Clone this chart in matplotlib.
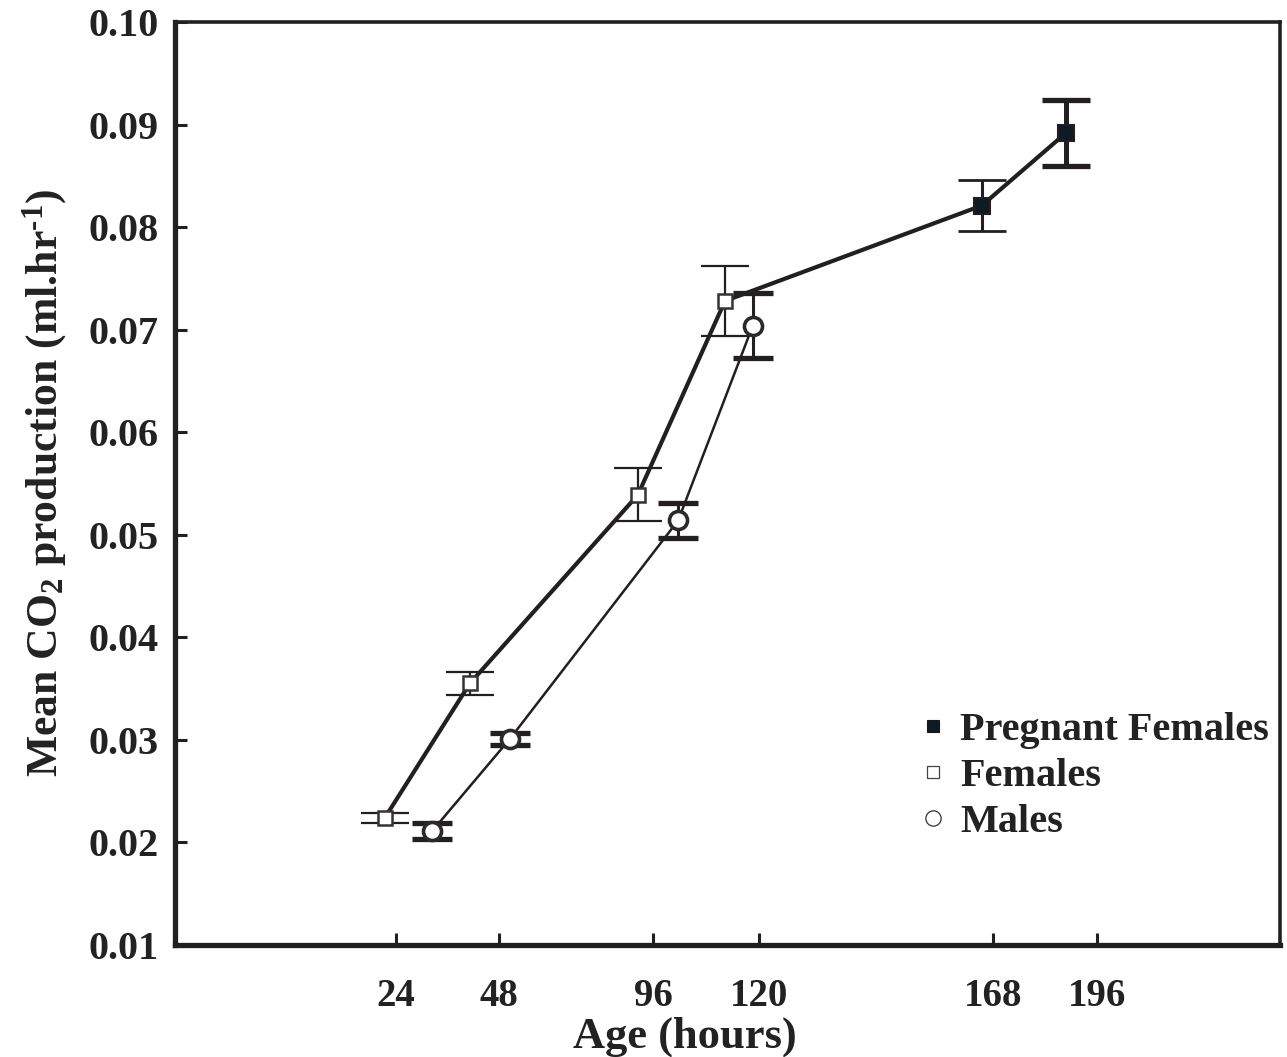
import numpy as np
import matplotlib
matplotlib.use("Agg")
import matplotlib.pyplot as plt
from matplotlib.lines import Line2D
from matplotlib.font_manager import FontProperties

# ---------------- data ----------------
tick_hours = [24, 48, 96, 120, 168, 196]
tick_labels = ["24", "48", "96", "120", "168", "196"]

fem_x = [21.4, 41.2, 91.3, 112.3]
fem_y = [0.0224, 0.0355, 0.0539, 0.0728]
fem_err = [0.0005, 0.0011, 0.0026, 0.0034]

male_x = [32.4, 51.4, 101.7, 118.6]
male_y = [0.0211, 0.0301, 0.0514, 0.0704]
male_err = [0.0008, 0.0006, 0.0017, 0.0032]

preg_x = [165.7, 187.7]
preg_y = [0.0821, 0.0892]
preg_err = [0.0025, 0.0032]

y_ticks = [0.01, 0.02, 0.03, 0.04, 0.05, 0.06, 0.07, 0.08, 0.09, 0.10]
legend_labels = ["Pregnant Females", "Females", "Males"]

# ---------------- non-linear age axis (piecewise scale) ----------------
anchor_h = np.array([-27.5, 24, 48, 96, 120, 168, 196, 245.3])
anchor_p = np.array([0, 221, 324, 478, 584, 818, 922, 1105], dtype=float)


def fwd(h):
    h = np.asarray(h, dtype=float)
    out = np.interp(h, anchor_h, anchor_p)
    s0 = (anchor_p[1] - anchor_p[0]) / (anchor_h[1] - anchor_h[0])
    s1 = (anchor_p[-1] - anchor_p[-2]) / (anchor_h[-1] - anchor_h[-2])
    out = np.where(h < anchor_h[0], anchor_p[0] + (h - anchor_h[0]) * s0, out)
    out = np.where(h > anchor_h[-1], anchor_p[-1] + (h - anchor_h[-1]) * s1, out)
    return out


def inv(p):
    p = np.asarray(p, dtype=float)
    out = np.interp(p, anchor_p, anchor_h)
    s0 = (anchor_h[1] - anchor_h[0]) / (anchor_p[1] - anchor_p[0])
    s1 = (anchor_h[-1] - anchor_h[-2]) / (anchor_p[-1] - anchor_p[-2])
    out = np.where(p < anchor_p[0], anchor_h[0] + (p - anchor_p[0]) * s0, out)
    out = np.where(p > anchor_p[-1], anchor_h[-1] + (p - anchor_p[-1]) * s1, out)
    return out


# ---------------- style ----------------
plt.rcParams["font.family"] = ["Liberation Serif", "DejaVu Serif"]
plt.rcParams["font.weight"] = "bold"
plt.rcParams["mathtext.fontset"] = "custom"
plt.rcParams["mathtext.rm"] = "Liberation Serif:bold"
plt.rcParams["mathtext.bf"] = "Liberation Serif:bold"
plt.rcParams["mathtext.it"] = "Liberation Serif:bold"

ink = "#231f20"
navy = "#0f1a22"
txt = "#222222"

fig = plt.figure(figsize=(12.87, 10.57), dpi=100)
ax = fig.add_axes([175 / 1287, 1 - 945 / 1057, 1105 / 1287, 923 / 1057])
ax.set_xscale("function", functions=(fwd, inv))
ax.set_xlim(anchor_h[0], anchor_h[-1])
ax.set_ylim(0.01, 0.10)

# lines
ax.plot(fem_x + preg_x, fem_y + preg_y, color=ink, lw=3.0, zorder=2,
        solid_capstyle="butt")
ax.plot(male_x, male_y, color=ink, lw=1.8, zorder=2)

# error bars
ax.errorbar(fem_x, fem_y, yerr=fem_err, fmt="none", ecolor=ink,
            elinewidth=1.6, capsize=17, capthick=1.6, zorder=3)
ax.errorbar(male_x, male_y, yerr=male_err, fmt="none", ecolor=ink,
            elinewidth=2.2, capsize=14.5, capthick=3.8, zorder=3)
preg_styles = [(2.2, 2.0), (3.6, 3.8)]
for px, py, pe, (ew, ct) in zip(preg_x, preg_y, preg_err, preg_styles):
    ax.errorbar([px], [py], yerr=[pe], fmt="none", ecolor=ink,
                elinewidth=ew, capsize=17, capthick=ct, zorder=3)

# markers
ax.plot(fem_x, fem_y, ls="none", marker="s", ms=10, mfc="white",
        mec="#333333", mew=1.8, zorder=4)
ax.plot(male_x, male_y, ls="none", marker="o", ms=13, mfc="white",
        mec="#2a2a2a", mew=2.6, zorder=4)
ax.plot(preg_x, preg_y, ls="none", marker="s", ms=11.5, mfc=navy,
        mec=ink, mew=1.5, zorder=4)

# axes styling
ax.set_xticks(tick_hours)
ax.set_xticklabels(tick_labels)
ax.set_yticks(y_ticks)
ax.set_yticklabels([f"{v:.2f}" for v in y_ticks])
ax.tick_params(axis="x", direction="in", length=8.5, width=2.2, color=ink,
               labelsize=28, pad=24, labelcolor=txt)
ax.tick_params(axis="y", direction="in", length=8.5, width=2.2, color=ink,
               labelsize=29, pad=12, labelcolor=txt)
for lab in ax.get_xticklabels() + ax.get_yticklabels():
    lab.set_fontweight("bold")

for side in ["left", "bottom"]:
    ax.spines[side].set_linewidth(3.8)
    ax.spines[side].set_color(ink)
for side in ["top", "right"]:
    ax.spines[side].set_linewidth(2.6)
    ax.spines[side].set_color(ink)

ax.set_xlabel("Age (hours)", fontsize=32, fontweight="bold", color=txt)
ax.xaxis.set_label_coords(0.4615, -0.078)
ax.set_ylabel(r"Mean CO$_{2}$ production (ml.hr$^{\text{-1}}$)", fontsize=31.5,
              fontweight="bold", labelpad=14, color=txt)

# legend
handles = [
    Line2D([], [], ls="none", marker="s", ms=9, mfc=navy, mec=navy, mew=0.8),
    Line2D([], [], ls="none", marker="s", ms=9, mfc="white", mec="#444444", mew=0.9),
    Line2D([], [], ls="none", marker="o", ms=11, mfc="white", mec="#333333", mew=0.9),
]
leg = ax.legend(handles, legend_labels, loc="upper left",
                bbox_to_anchor=(921 / 1287, 1 - 712 / 1057),
                bbox_transform=fig.transFigure, frameon=False,
                prop=FontProperties(family="Liberation Serif", weight="bold", size=29),
                handlelength=0.6, handletextpad=0.37, labelspacing=0.22,
                borderpad=0, borderaxespad=0)
for t in leg.get_texts():
    t.set_color(txt)

fig.savefig("out.png", dpi=100)
